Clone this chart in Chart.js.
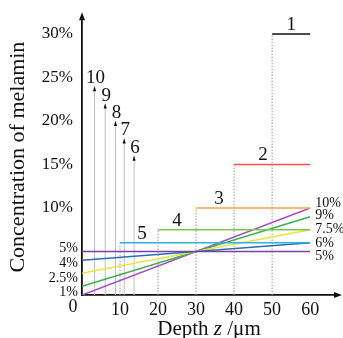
<!DOCTYPE html>
<html>
<head>
<meta charset="utf-8">
<script src="https://cdn.jsdelivr.net/npm/chart.js@4.4.1/dist/chart.umd.min.js"></script>
<style>
  body { margin: 0; background: #fff; }
  canvas { display: block; }
</style>
</head>
<body>
<canvas id="chart" width="343" height="338"></canvas>
<script>
// plateaus 1-5: start depth, level (%), all end at 60 µm
var stepLabels  = ['1', '2', '3', '4', '5'];
var stepStart   = [50, 40, 30, 20, 10];
var stepLevel   = [30, 15, 10, 7.5, 6];
var stepEnd     = 60;
var stepLabelAt = [55, 47.6, 36, 25, 15.8];

// arrows 6-10
var arrowLabels = ['6', '7', '8', '9', '10'];
var arrowDepth  = [13.7, 11.1, 8.8, 6.1, 3.3];
var arrowTop    = [16, 18, 20, 22, 24];

// linear profiles 0 -> 60 µm
var slopeFrom = [5, 4, 2.5, 1, 0];
var slopeTo   = [5, 6, 7.5, 9, 10];

var leftLabels    = ['5%', '4%', '2.5%', '1%'];
var leftLabelAt   = [5.4, 3.65, 1.95, 0.3];
var rightLabels   = ['5%', '6%', '7.5%', '9%', '10%'];
var rightLabelAt  = [4.4, 5.9, 7.5, 9.1, 10.55];

var xTicks = [10, 20, 30, 40, 50, 60];
var yTicks = [10, 15, 20, 25, 30];

var stepColors  = ['#111111', '#f0564b', '#f5a93c', '#7cc64e', '#2fb0e6'];
var slopeColors = ['#7a3ea6', '#2a6cb6', '#e8e43e', '#38b24a', '#a650c2'];

var SERIF = '"Liberation Serif", "DejaVu Serif", serif';

var datasets = [];
stepStart.forEach(function (s, i) {
    datasets.push({
        data: [{ x: s, y: stepLevel[i] }, { x: stepEnd, y: stepLevel[i] }],
        borderColor: stepColors[i], borderWidth: 1.6, order: 1
    });
    datasets.push({
        data: [{ x: s, y: 0 }, { x: s, y: stepLevel[i] }],
        borderColor: '#9a9a9a', borderWidth: 1, borderDash: [1.5, 1.5], order: 4
    });
});
slopeFrom.forEach(function (v, i) {
    datasets.push({
        data: [{ x: 0, y: v }, { x: stepEnd, y: slopeTo[i] }],
        borderColor: slopeColors[i], borderWidth: 1.6, order: 2
    });
});
arrowDepth.forEach(function (d, i) {
    datasets.push({
        data: [{ x: d, y: 0 }, { x: d, y: arrowTop[i] }],
        borderColor: '#c2bcbc', borderWidth: 1, order: 3
    });
});
datasets.forEach(function (ds) {
    ds.pointRadius = 0; ds.fill = false; ds.tension = 0;
});

function tri(ctx, x, y, dir, len, half) {
    ctx.beginPath();
    if (dir === 'up') {
        ctx.moveTo(x, y); ctx.lineTo(x - half, y + len); ctx.lineTo(x + half, y + len);
    } else {
        ctx.moveTo(x, y); ctx.lineTo(x - len, y - half); ctx.lineTo(x - len, y + half);
    }
    ctx.closePath();
    ctx.fill();
}

var annotate = {
    id: 'annotate',
    afterDraw: function (chart) {
        var ctx = chart.ctx, xs = chart.scales.x, ys = chart.scales.y, a = chart.chartArea;
        ctx.save();
        ctx.fillStyle = '#111';
        // axis arrowheads
        tri(ctx, a.left, a.top - 7, 'up', 8, 3);
        tri(ctx, a.right + 6, a.bottom, 'right', 8, 3);
        // arrow tips 6-10
        arrowDepth.forEach(function (d, i) {
            tri(ctx, xs.getPixelForValue(d), ys.getPixelForValue(arrowTop[i]), 'up', 5, 1.6);
        });

        ctx.textAlign = 'center';
        ctx.textBaseline = 'alphabetic';
        ctx.font = '19px ' + SERIF;
        stepLabels.forEach(function (t, i) {
            ctx.fillText(t, xs.getPixelForValue(stepLabelAt[i]), ys.getPixelForValue(stepLevel[i]) - 4);
        });
        arrowLabels.forEach(function (t, i) {
            ctx.fillText(t, xs.getPixelForValue(arrowDepth[i]) + 1, ys.getPixelForValue(arrowTop[i]) - 3);
        });

        ctx.font = '14px ' + SERIF;
        ctx.textBaseline = 'middle';
        ctx.textAlign = 'right';
        leftLabels.forEach(function (t, i) {
            ctx.fillText(t, a.left - 4, ys.getPixelForValue(leftLabelAt[i]));
        });
        ctx.textAlign = 'left';
        rightLabels.forEach(function (t, i) {
            ctx.fillText(t, xs.getPixelForValue(stepEnd) + 5, ys.getPixelForValue(rightLabelAt[i]));
        });

        // origin
        ctx.font = '18px ' + SERIF;
        ctx.textAlign = 'center';
        ctx.textBaseline = 'top';
        ctx.fillText('0', a.left - 9, a.bottom + 3);

        // x title with italic z
        var parts = [['Depth ', ''], ['z', 'italic '], [' /\u03bcm', '']];
        var w = 0;
        parts.forEach(function (p) { ctx.font = p[1] + '21px ' + SERIF; w += ctx.measureText(p[0]).width; });
        var x = (a.left + a.right) / 2 - w / 2;
        ctx.textAlign = 'left';
        ctx.textBaseline = 'alphabetic';
        parts.forEach(function (p) {
            ctx.font = p[1] + '21px ' + SERIF;
            ctx.fillText(p[0], x, 335);
            x += ctx.measureText(p[0]).width;
        });
        ctx.restore();
    }
};

new Chart(document.getElementById('chart'), {
    type: 'line',
    data: { datasets: datasets },
    options: {
        responsive: false,
        animation: false,
        parsing: true,
        layout: { padding: { top: 16, right: 7, left: 0, bottom: 0 } },
        plugins: { legend: { display: false }, tooltip: { enabled: false } },
        scales: {
            x: {
                type: 'linear', min: 0, max: 66.8,
                grid: { display: false, drawTicks: false },
                border: { display: true, color: '#111', width: 1.8 },
                afterBuildTicks: function (s) { s.ticks = xTicks.map(function (v) { return { value: v }; }); },
                afterFit: function (s) { s.height = 43; },
                ticks: { color: '#111', padding: 4, maxRotation: 0, font: { family: SERIF, size: 18 } }
            },
            y: {
                type: 'linear', min: 0, max: 31.7,
                grid: { display: false, drawTicks: false },
                border: { display: true, color: '#111', width: 1.8 },
                afterBuildTicks: function (s) { s.ticks = yTicks.map(function (v) { return { value: v }; }); },
                afterFit: function (s) { s.width = 82; },
                ticks: {
                    color: '#111', padding: 9, font: { family: SERIF, size: 17 },
                    callback: function (v) { return v + '%'; }
                },
                title: {
                    display: true, text: 'Concentration of melamin', color: '#111',
                    font: { family: SERIF, size: 22 }, padding: { top: 5, bottom: 0 }
                }
            }
        }
    },
    plugins: [annotate]
});
</script>
</body>
</html>
